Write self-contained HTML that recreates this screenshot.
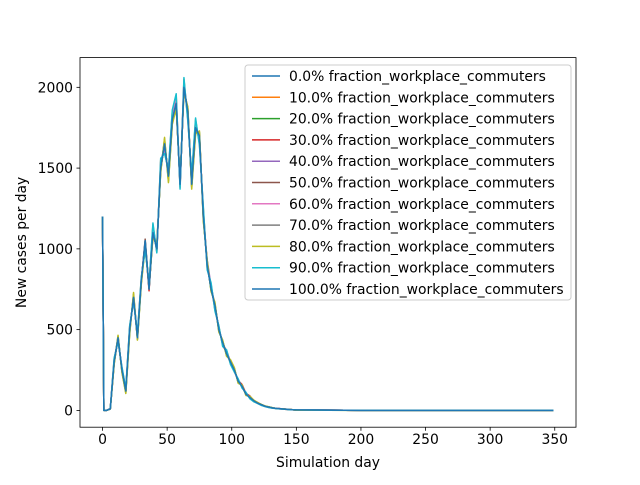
<!DOCTYPE html>
<html><head><meta charset="utf-8"><style>
body{margin:0;background:#fff}
svg{font-family:"DejaVu Sans","Liberation Sans",sans-serif}
</style></head><body>
<svg id="chart" width="640" height="480"></svg>
<script>
const days=[0,1,3,6,9,12,15,18,21,24,27,30,33,36,39,42,45,48,51,54,57,60,63,66,69,72,75,78,81,84,87,90,93,96,99,102,105,108,111,114,117,120,123,126,129,132,135,138,141,144,147,150,200,250,300,349];
const s0=[1200,0,0,10,300,450,250,120,500,700,450,800,1050,750,1100,1000,1500,1650,1450,1800,1900,1400,2000,1850,1400,1750,1700,1200,900,750,650,500,420,350,300,250,180,150,100,80,60,45,35,25,20,15,12,10,8,6,4,3,0,0,0,0];
const s1=[1200,0,0,12,320,430,260,130,520,680,470,820,1000,780,1150,980,1550,1600,1480,1850,1950,1380,2050,1800,1450,1800,1650,1250,880,780,620,520,400,360,290,240,190,140,110,75,55,45,32,25,18,14,12,9,7,5,4,3,0,0,0,0];
const s2=[1200,0,0,8,290,460,240,110,480,720,440,790,1020,760,1080,1020,1480,1680,1420,1780,1880,1420,1980,1870,1380,1720,1720,1180,920,740,660,490,430,340,310,260,170,155,95,85,62,48,36,26,21,16,11,10,8,6,4,2,0,0,0,0];
const s3=[1200,0,0,11,310,440,255,125,510,690,460,810,1040,740,1120,990,1520,1640,1460,1820,1920,1390,2010,1840,1420,1760,1690,1220,910,760,640,510,410,370,300,245,185,160,105,90,58,50,34,24,20,15,12,10,8,6,4,3,0,0,0,0];
const s4=[1200,0,0,9,305,455,245,115,490,710,455,805,1030,770,1090,1010,1510,1660,1440,1790,1910,1410,1990,1860,1410,1740,1710,1190,930,770,650,505,425,345,305,255,175,150,98,82,61,46,35,25,19,15,12,10,8,6,4,3,0,0,0,0];
const s5=[1200,0,0,10,295,445,250,120,505,700,445,800,1060,755,1105,1005,1490,1655,1455,1810,1895,1400,2005,1845,1395,1745,1705,1205,905,755,655,500,420,355,300,250,180,150,100,80,60,45,35,25,20,15,12,10,8,6,4,3,0,0,0,0];
const s6=[1200,0,0,12,315,435,265,128,515,685,465,815,1010,775,1140,985,1540,1610,1475,1840,1940,1385,2040,1810,1440,1790,1660,1240,890,775,625,515,405,365,295,242,188,145,108,78,57,44,33,24,18,14,12,9,7,5,4,3,0,0,0,0];
const s7=[1200,0,0,9,300,450,248,118,495,705,452,798,1045,752,1098,1002,1502,1648,1452,1798,1902,1402,1998,1852,1402,1752,1702,1198,902,752,652,502,418,352,302,252,178,152,102,82,62,46,36,26,20,15,12,10,8,6,4,3,0,0,0,0];
const s8=[1200,0,0,10,285,465,235,105,470,730,435,780,1015,765,1070,1030,1470,1690,1410,1770,1870,1430,1970,1880,1370,1710,1730,1170,930,735,670,485,435,335,315,265,168,158,92,88,64,49,37,27,22,16,11,10,8,6,4,2,0,0,0,0];
const s9=[1200,0,0,11,325,425,270,135,525,675,475,825,995,785,1160,975,1560,1590,1490,1860,1960,1370,2060,1790,1460,1810,1640,1260,870,790,615,525,395,375,285,238,195,138,112,72,54,43,31,23,17,13,11,9,7,5,4,3,0,0,0,0];
const s10=[1200,0,0,10,300,450,250,120,500,700,450,800,1050,750,1100,1000,1500,1650,1450,1800,1900,1400,2000,1850,1400,1750,1700,1200,900,750,650,500,420,350,300,250,180,150,100,80,60,45,35,25,20,15,12,10,8,6,4,3,0,0,0,0];
const series=[s0,s1,s2,s3,s4,s5,s6,s7,s8,s9,s10];
const labels=["0.0%","10.0%","20.0%","30.0%","40.0%","50.0%","60.0%","70.0%","80.0%","90.0%","100.0%"];
const colors=["#1f77b4","#ff7f0e","#2ca02c","#d62728","#9467bd","#8c564b","#e377c2","#7f7f7f","#bcbd22","#17becf","#1f77b4"];
const xTicks=[0,50,100,150,200,250,300,350];
const yTicks=[0,500,1000,1500,2000];

const L=80,R=576,T=57.6,B=427.2;
const xmin=-17.45,xmax=366.45,ymin=-104,ymax=2184;
const X=v=>L+(v-xmin)/(xmax-xmin)*(R-L);
const Y=v=>B-(v-ymin)/(ymax-ymin)*(B-T);
const svg=document.getElementById('chart');
const NS="http://www.w3.org/2000/svg";
function mk(tag,attrs,parent){const e=document.createElementNS(NS,tag);for(const k in attrs)e.setAttribute(k,attrs[k]);(parent||svg).appendChild(e);return e;}

series.forEach((s,i)=>{
  const p=mk('polyline',{points:s.map((v,j)=>X(days[j])+','+Y(v)).join(' '),fill:'none',stroke:colors[i],'stroke-width':1.5,'stroke-linejoin':'round'});
  
  
});

const frame=mk('rect',{x:L,y:T,width:R-L,height:B-T,fill:'none',stroke:'#000','stroke-width':0.8});



xTicks.forEach(t=>{
  mk('line',{x1:X(t),x2:X(t),y1:B,y2:B+3.5,stroke:'#000','stroke-width':0.8});
  const tx=mk('text',{x:X(t),y:B+17,'text-anchor':'middle','font-size':'13.9px'});
  tx.textContent=t;
  
  
});
yTicks.forEach(t=>{
  mk('line',{x1:L-3.5,x2:L,y1:Y(t),y2:Y(t),stroke:'#000','stroke-width':0.8});
  const tx=mk('text',{x:L-7,y:Y(t)+5,'text-anchor':'end','font-size':'13.9px'});
  tx.textContent=t;
  
  
});
const xt=mk('text',{x:(L+R)/2,y:467,'text-anchor':'middle','font-size':'13.9px'});
xt.textContent='Simulation day';


const yt=mk('text',{x:26,y:(T+B)/2,'text-anchor':'middle','font-size':'13.9px',transform:'rotate(-90 26 '+((T+B)/2)+')'});
yt.textContent='New cases per day';



const lg=mk('g',{});


mk('rect',{x:245,y:65,width:326,height:235,rx:3,fill:'#fff','fill-opacity':0.8,stroke:'#ccc','stroke-width':1},lg);
labels.forEach((lab,i)=>{
  const y=76+i*21.3;
  const g=mk('g',{},lg);
  
  
  mk('line',{x1:252,x2:280,y1:y,y2:y,stroke:colors[i],'stroke-width':1.5},g);
  const t=mk('text',{x:289,y:y+5,'font-size':'13.9px'},g);
  t.textContent=lab+' fraction_workplace_commuters';
});
</script>
</body></html>
